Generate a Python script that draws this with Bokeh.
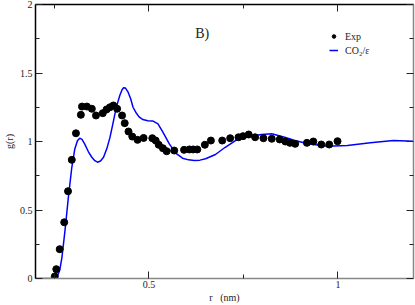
from bokeh.plotting import figure
from bokeh.models import (LinearAxis, FixedTicker, Label, Legend, LegendItem, Range1d,
                          CustomJSTickFormatter, AllLabels)
from bokeh.embed import file_html
from bokeh.resources import INLINE

# Experimental g(r)
exp_r = [0.251, 0.255, 0.264, 0.276, 0.286, 0.296, 0.307, 0.320, 0.323, 0.336,
         0.349, 0.360, 0.378, 0.388, 0.397, 0.406, 0.416, 0.429, 0.436, 0.446,
         0.456, 0.470, 0.486, 0.509, 0.518, 0.526, 0.537, 0.547, 0.567, 0.593,
         0.607, 0.617, 0.628, 0.648, 0.664, 0.694, 0.715, 0.737, 0.749, 0.764,
         0.781, 0.803, 0.825, 0.846, 0.861, 0.873, 0.887, 0.918, 0.935, 0.956,
         0.977, 0.999]
exp_g = [0.015, 0.068, 0.214, 0.410, 0.637, 0.866, 1.060, 1.195, 1.255, 1.255,
         1.239, 1.190, 1.207, 1.234, 1.250, 1.263, 1.239, 1.190, 1.134, 1.073,
         1.036, 1.012, 1.026, 1.024, 1.007, 0.976, 0.951, 0.929, 0.934, 0.939,
         0.942, 0.942, 0.942, 0.976, 1.007, 1.007, 1.024, 1.031, 1.039, 1.051,
         1.031, 1.024, 1.020, 1.015, 1.000, 0.990, 0.983, 0.990, 1.000, 0.978,
         0.978, 1.002]

# Simulation CO2/eps
sim_r = [0.200, 0.240, 0.250, 0.257, 0.264, 0.270, 0.278, 0.287, 0.296, 0.304,
         0.311, 0.317, 0.323, 0.330, 0.340, 0.349, 0.357, 0.364, 0.372, 0.380,
         0.389, 0.397, 0.404, 0.410, 0.417, 0.423, 0.429, 0.433, 0.438, 0.445,
         0.452, 0.458, 0.466, 0.474, 0.484, 0.497, 0.510, 0.524, 0.537, 0.554,
         0.571, 0.589, 0.605, 0.620, 0.635, 0.650, 0.676, 0.702, 0.729, 0.764,
         0.798, 0.825, 0.859, 0.886, 0.921, 0.973, 1.025, 1.086, 1.147, 1.200]
sim_g = [0.000, 0.000, 0.002, 0.010, 0.060, 0.155, 0.350, 0.593, 0.810, 0.946,
         1.005, 1.024, 1.015, 0.983, 0.925, 0.885, 0.860, 0.849, 0.858, 0.885,
         0.950, 1.030, 1.120, 1.200, 1.280, 1.336, 1.378, 1.392, 1.390, 1.360,
         1.310, 1.250, 1.210, 1.180, 1.160, 1.152, 1.150, 1.129, 1.068, 0.983,
         0.915, 0.878, 0.866, 0.861, 0.864, 0.874, 0.905, 0.958, 1.007, 1.036,
         1.051, 1.056, 1.031, 1.007, 0.983, 0.966, 0.971, 0.990, 1.007, 1.002]

x_major = [0.5, 1.0]
x_minor = [0.25, 0.75]
x_labels = {0.5: "0.5", 1.0: "1"}
y_major = [0.0, 0.5, 1.0, 1.5, 2.0]
y_minor = [0.25, 0.75, 1.25, 1.75]
y_labels = {0.0: "0", 0.5: "0.5", 1.0: "1", 1.5: "1.5", 2.0: "2"}

SERIF = "Liberation Serif"

p = figure(width=415, height=305, output_backend="svg", toolbar_location=None,
           x_axis_location=None, y_axis_location=None,
           x_range=Range1d(0.2, 1.2), y_range=Range1d(0, 2),
           min_border_left=32, min_border_right=2, min_border_top=4,
           min_border_bottom=27)
p.grid.visible = False
p.outline_line_color = None
p.background_fill_color = "white"
p.border_fill_color = "white"


def style_axis(ax, ticks, minor, color, labels=None):
    ax.ticker = FixedTicker(ticks=ticks, minor_ticks=minor)
    ax.axis_line_color = color
    ax.axis_line_width = 1.5
    ax.major_tick_in = 7
    ax.major_tick_out = 0
    ax.minor_tick_in = 4
    ax.minor_tick_out = 0
    ax.major_tick_line_color = "#222222"
    ax.minor_tick_line_color = "#222222"
    ax.major_label_text_font = SERIF
    ax.major_label_text_font_size = "10px"
    ax.major_label_text_color = "#222222"
    if labels is None:
        # frame-only axis: ticks, no labels
        ax.major_label_policy = AllLabels()
        ax.formatter = CustomJSTickFormatter(code="return ''")
        ax.major_label_standoff = 0
    else:
        ax.major_label_overrides = labels
        ax.major_label_standoff = 2
    ax.axis_label_text_font = SERIF
    ax.axis_label_text_font_size = "10px"
    ax.axis_label_text_font_style = "normal"
    ax.axis_label_text_color = "#222222"


left = LinearAxis(axis_label="g(r)")
style_axis(left, y_major, y_minor, "black", y_labels)
left.major_label_standoff = 3
left.axis_label_standoff = 2
p.add_layout(left, "left")

bottom = LinearAxis(axis_label="r \u00a0 (nm)")
style_axis(bottom, x_major, x_minor, "#888888", x_labels)
bottom.axis_label_standoff = 1
p.add_layout(bottom, "below")

top = LinearAxis()
style_axis(top, x_major, x_minor, "black")
p.add_layout(top, "above")

right = LinearAxis()
style_axis(right, y_major, y_minor, "#888888")
p.add_layout(right, "right")

sim = p.line(sim_r, sim_g, line_color="#0000ff", line_width=1.5)
exp = p.scatter(exp_r, exp_g, size=7, color="black")

legend = Legend(items=[LegendItem(label="Exp", renderers=[exp]),
                       LegendItem(label="CO\u2082/\u03b5", renderers=[sim])],
                location=(294, 221), glyph_width=9, glyph_height=14,
                label_standoff=7, label_height=14, spacing=0, padding=0,
                margin=0, border_line_color=None, background_fill_alpha=0,
                label_text_font=SERIF, label_text_font_size="10px",
                label_text_color="#222222")
p.add_layout(legend)

p.add_layout(Label(x=0.641, y=1.785, text="B)", text_font=SERIF,
                   text_font_size="14px", text_align="center",
                   text_baseline="middle", text_color="#222222"))

open("out.html", "w").write(file_html(p, INLINE))
